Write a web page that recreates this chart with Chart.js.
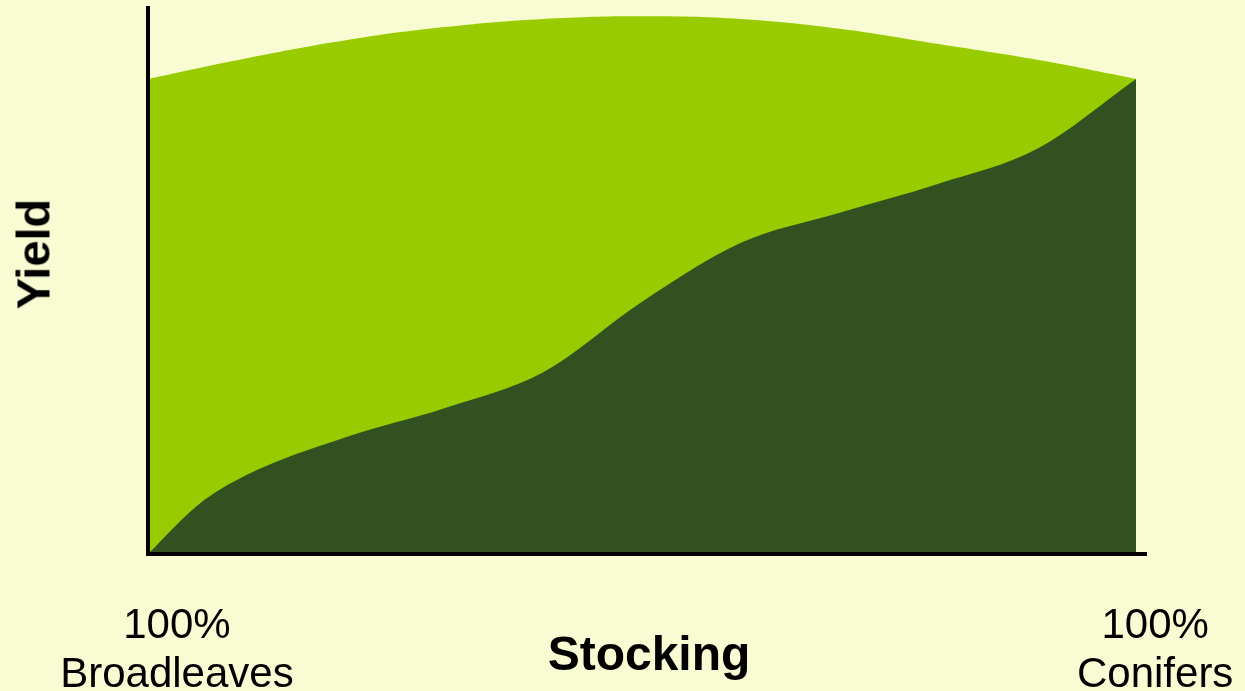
<!DOCTYPE html>
<html>
<head>
<meta charset="utf-8">
<script src="https://cdn.jsdelivr.net/npm/chart.js@4.4.1/dist/chart.umd.min.js"></script>
<style>
  html, body { margin: 0; padding: 0; background: #F9FCD3; }
  #wrap { position: relative; width: 1245px; height: 691px; overflow: hidden; background: #F9FCD3; }
  #c { position: absolute; left: 0; top: 0; }
  .t { position: absolute; font-family: "Liberation Sans", Arial, sans-serif; color: #000; white-space: nowrap; line-height: 1; }
  #yt { font-weight: bold; font-size: 47px; left: 33px; top: 254px; transform: translate(-50%, -50%) rotate(-90deg); }
  #xt { font-weight: bold; font-size: 48px; left: 649px; top: 630px; transform: translateX(-50%); }
</style>
</head>
<body>
<div id="wrap">
  <canvas id="c" width="1245" height="691"></canvas>
  <div class="t" id="yt">Yield</div>
  <div class="t" id="xt">Stocking</div>
</div>
<script>
// Stocking axis: 0 = 100% broadleaves, 100 = 100% conifers
const tickValues = [0.5, 99.5];
const tickLabels = [["100%", "Broadleaves"], ["100%", "Conifers"]];

// Total yield (upper, light green)
const totalX = [0, 10, 20, 30, 40, 50, 60, 70, 80, 90, 100];
const totalY = [87.0, 90.8, 94.1, 96.5, 98.0, 98.5, 98.0, 96.2, 93.4, 90.5, 87.0];

// Conifer yield (lower, dark green)
const coniferX = [0, 5, 10, 20, 30, 40, 50, 60, 70, 80, 90, 100];
const coniferY = [0, 8.9, 14.5, 21.4, 26.7, 33.3, 46.2, 57.0, 62.5, 67.8, 74.2, 87.0];

const toPts = (xs, ys) => xs.map((x, i) => ({ x: x, y: ys[i] }));

new Chart(document.getElementById('c'), {
  type: 'line',
  data: {
    datasets: [
      {
        label: 'Conifers',
        data: toPts(coniferX, coniferY),
        backgroundColor: '#315220',
        borderWidth: 0,
        pointRadius: 0,
        fill: 'origin',
        cubicInterpolationMode: 'monotone'
      },
      {
        label: 'Total',
        data: toPts(totalX, totalY),
        backgroundColor: '#99CC00',
        borderWidth: 0,
        pointRadius: 0,
        fill: 'origin',
        tension: 0.4
      }
    ]
  },
  options: {
    responsive: false,
    animation: false,
    devicePixelRatio: 1,
    layout: { padding: { top: 8, right: 99, left: 0, bottom: 0 } },
    plugins: { legend: { display: false }, tooltip: { enabled: false } },
    scales: {
      x: {
        type: 'linear',
        min: 0,
        max: 101,
        grid: { display: false, drawTicks: false },
        border: { display: true, color: '#000', width: 4, z: 2 },
        afterBuildTicks: (s) => { s.ticks = tickValues.map(v => ({ value: v })); },
        afterFit: (s) => { s.height = 137; s.paddingLeft = 0; s.paddingRight = 0; },
        ticks: {
          padding: 48,
          labelOffset: 24,
          maxRotation: 0,
          autoSkip: false,
          color: '#000',
          font: { family: '"Liberation Sans", Arial, sans-serif', size: 42, lineHeight: 1.167 },
          callback: (v) => { const i = tickValues.indexOf(v); return i >= 0 ? tickLabels[i] : ''; }
        }
      },
      y: {
        type: 'linear',
        min: 0,
        max: 100,
        grid: { display: false, drawTicks: false },
        border: { display: true, color: '#000', width: 4, z: 2 },
        ticks: { display: false },
        afterFit: (s) => { s.width = 148; }
      }
    }
  }
});
</script>
</body>
</html>
